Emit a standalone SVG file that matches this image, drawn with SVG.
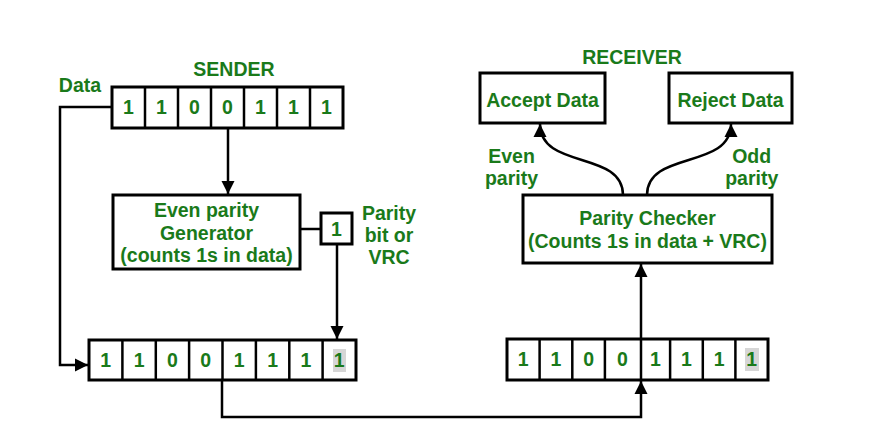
<svg xmlns="http://www.w3.org/2000/svg" width="870" height="440" viewBox="0 0 870 440">
<style>
  text { font-family: "Liberation Sans", Arial, sans-serif; font-weight: bold; font-size: 19.5px; fill: #1a7a1a; text-anchor: middle; }
  .box { fill: #ffffff; stroke: #000000; stroke-width: 3; }
  .div { stroke: #000000; stroke-width: 2.5; }
  .conn { fill: none; stroke: #000000; stroke-width: 2.5; }
  .hl { fill: #d6d6d6; }
</style>
<defs>
  <marker id="arr" markerUnits="userSpaceOnUse" markerWidth="14" markerHeight="14" viewBox="0 0 14 14" refX="13" refY="7" orient="auto">
    <path d="M0,0.5 L13,7 L0,13.5 Z" fill="#000000"/>
  </marker>
</defs>
<rect width="870" height="440" fill="#ffffff"/>

<text x="234" y="76">SENDER</text>
<text x="632" y="64">RECEIVER</text>

<g id="connectors">
  <path class="conn" d="M112,107 H60 V365 H88" marker-end="url(#arr)"/>
  <path class="conn" d="M228,128 V194" marker-end="url(#arr)"/>
  <path class="conn" d="M300,229 H321"/>
  <path class="conn" d="M337,244 V339" marker-end="url(#arr)"/>
  <path class="conn" d="M222,380 V417 H641 V381" marker-end="url(#arr)"/>
  <path class="conn" d="M641,339 V264" marker-end="url(#arr)"/>
  <path class="conn" d="M623,195 C623,150 540,170 540,124" marker-end="url(#arr)"/>
  <path class="conn" d="M647,195 C647,150 731,170 731,124" marker-end="url(#arr)"/>
</g>

<g id="data-label"><text x="80" y="92">Data</text></g>

<g id="sender-data">
  <rect class="box" x="112" y="87" width="231" height="41"/>
  <line class="div" x1="145" y1="87" x2="145" y2="128"/>
  <line class="div" x1="178" y1="87" x2="178" y2="128"/>
  <line class="div" x1="211" y1="87" x2="211" y2="128"/>
  <line class="div" x1="244" y1="87" x2="244" y2="128"/>
  <line class="div" x1="277" y1="87" x2="277" y2="128"/>
  <line class="div" x1="310" y1="87" x2="310" y2="128"/>
  <text x="128.5" y="114">1</text>
  <text x="161.5" y="114">1</text>
  <text x="194.5" y="114">0</text>
  <text x="227.5" y="114">0</text>
  <text x="260.5" y="114">1</text>
  <text x="293.5" y="114">1</text>
  <text x="326.5" y="114">1</text>
</g>

<g id="generator">
  <rect class="box" x="113" y="195" width="187" height="74"/>
  <text x="206.5" y="217">Even parity</text>
  <text x="206.5" y="240">Generator</text>
  <text x="206.5" y="262">(counts 1s in data)</text>
</g>

<g id="parity-bit">
  <rect class="box" x="321" y="213" width="31" height="31"/>
  <text x="336.5" y="236">1</text>
</g>

<g id="parity-label">
  <text x="389" y="220">Parity</text>
  <text x="389" y="242">bit or</text>
  <text x="389" y="264">VRC</text>
</g>

<g id="sender-frame">
  <rect class="box" x="89" y="340" width="267" height="40"/>
  <line class="div" x1="122.4" y1="340" x2="122.4" y2="380"/>
  <line class="div" x1="155.8" y1="340" x2="155.8" y2="380"/>
  <line class="div" x1="189.1" y1="340" x2="189.1" y2="380"/>
  <line class="div" x1="222.5" y1="340" x2="222.5" y2="380"/>
  <line class="div" x1="255.9" y1="340" x2="255.9" y2="380"/>
  <line class="div" x1="289.3" y1="340" x2="289.3" y2="380"/>
  <line class="div" x1="322.6" y1="340" x2="322.6" y2="380"/>
  <rect class="hl" x="333" y="349" width="13" height="23"/>
  <text x="105.7" y="367">1</text>
  <text x="139.1" y="367">1</text>
  <text x="172.4" y="367">0</text>
  <text x="205.8" y="367">0</text>
  <text x="239.2" y="367">1</text>
  <text x="272.6" y="367">1</text>
  <text x="306" y="367">1</text>
  <text x="339.3" y="367">1</text>
</g>

<g id="receiver-frame">
  <rect class="box" x="507" y="339" width="261" height="41"/>
  <line class="div" x1="539.6" y1="339" x2="539.6" y2="380"/>
  <line class="div" x1="572.3" y1="339" x2="572.3" y2="380"/>
  <line class="div" x1="604.9" y1="339" x2="604.9" y2="380"/>
  <line class="div" x1="641" y1="339" x2="641" y2="380"/>
  <line class="div" x1="670.1" y1="339" x2="670.1" y2="380"/>
  <line class="div" x1="702.8" y1="339" x2="702.8" y2="380"/>
  <line class="div" x1="735.4" y1="339" x2="735.4" y2="380"/>
  <rect class="hl" x="745" y="348" width="14" height="23"/>
  <text x="523.3" y="366">1</text>
  <text x="555.9" y="366">1</text>
  <text x="588.6" y="366">0</text>
  <text x="622.5" y="366">0</text>
  <text x="655.5" y="366">1</text>
  <text x="686.4" y="366">1</text>
  <text x="719.1" y="366">1</text>
  <text x="751.7" y="366">1</text>
</g>

<g id="checker">
  <rect class="box" x="523" y="195" width="249" height="68"/>
  <text x="647.5" y="225">Parity Checker</text>
  <text x="647.5" y="248">(Counts 1s in data + VRC)</text>
</g>

<g id="accept">
  <rect class="box" x="480" y="73" width="125" height="50"/>
  <text x="542.5" y="107">Accept Data</text>
</g>

<g id="reject">
  <rect class="box" x="669" y="73" width="123" height="50"/>
  <text x="730.5" y="107">Reject Data</text>
</g>

<g id="even-label">
  <text x="511.5" y="163">Even</text>
  <text x="511.5" y="185">parity</text>
</g>

<g id="odd-label">
  <text x="751.7" y="163">Odd</text>
  <text x="751.7" y="185">parity</text>
</g>
</svg>
